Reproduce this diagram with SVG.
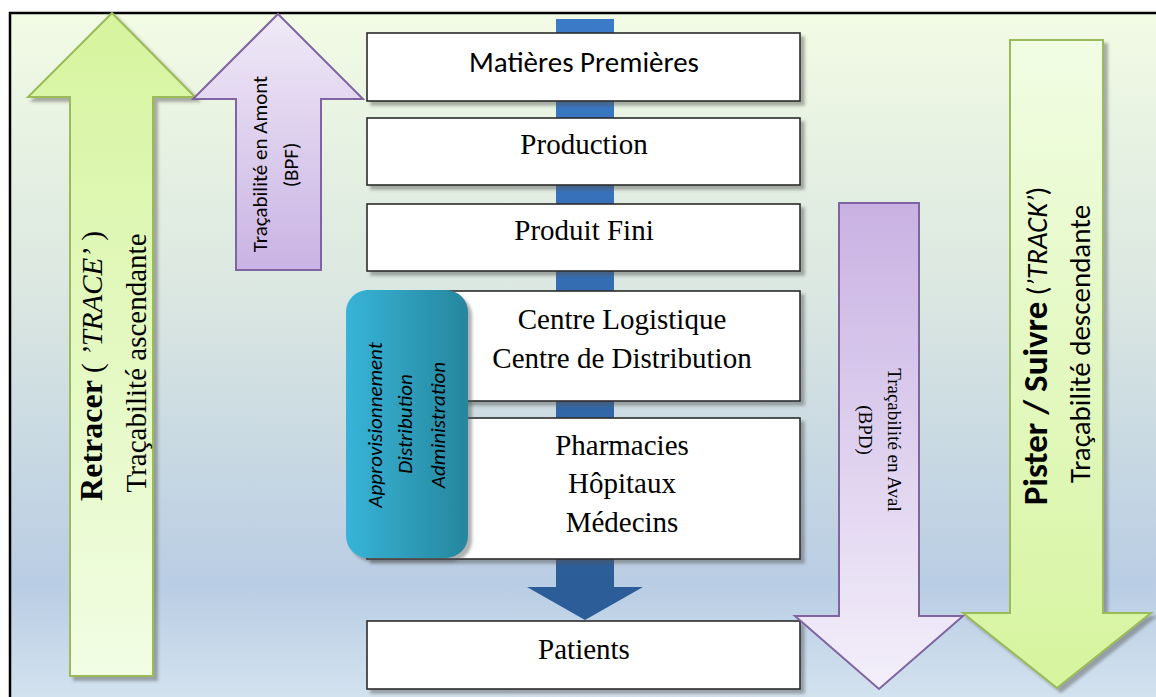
<svg xmlns="http://www.w3.org/2000/svg" width="1156" height="697" viewBox="0 0 1156 697">
<defs>
<linearGradient id="bg" x1="0" y1="0" x2="0" y2="1">
<stop offset="0" stop-color="#f2fbe4"/>
<stop offset="0.4" stop-color="#dbe7e1"/>
<stop offset="0.83" stop-color="#b9cde4"/>
<stop offset="1" stop-color="#d4e3ef"/>
</linearGradient>
<linearGradient id="gUp" x1="0" y1="0" x2="0" y2="1">
<stop offset="0" stop-color="#d6f49e"/>
<stop offset="1" stop-color="#f1fde4"/>
</linearGradient>
<linearGradient id="gDown" x1="0" y1="0" x2="0" y2="1">
<stop offset="0" stop-color="#f1fde4"/>
<stop offset="1" stop-color="#d6f49e"/>
</linearGradient>
<linearGradient id="pUp" x1="0" y1="0" x2="0" y2="1">
<stop offset="0" stop-color="#efeaf7"/>
<stop offset="1" stop-color="#cab3e4"/>
</linearGradient>
<linearGradient id="pDown" x1="0" y1="0" x2="0" y2="1">
<stop offset="0" stop-color="#c9b2e3"/>
<stop offset="1" stop-color="#f3effa"/>
</linearGradient>
<linearGradient id="blue" x1="0" y1="0" x2="0" y2="1">
<stop offset="0" stop-color="#3b7bc8"/>
<stop offset="1" stop-color="#2c5d98"/>
</linearGradient>
<linearGradient id="teal" x1="0" y1="0" x2="1" y2="0">
<stop offset="0" stop-color="#37b4d8"/>
<stop offset="1" stop-color="#26869d"/>
</linearGradient>
<filter id="sh" x="-10%" y="-10%" width="130%" height="130%">
<feDropShadow dx="4" dy="4" stdDeviation="1.5" flood-color="#555" flood-opacity="0.45"/>
</filter>
</defs>
<style>
.box{fill:#fff;stroke:#2a2a2a;stroke-width:1.6;filter:url(#sh)}
.serif{font-family:"Liberation Serif","Times New Roman",serif;fill:#000}
.sans{font-family:Carlito,Lato,"Liberation Sans",sans-serif;fill:#000}
.big{font-size:29px}
.green{stroke:#9bbb59;stroke-width:2}
.purple{stroke:#8064a2;stroke-width:2}
</style>
<rect x="10" y="13" width="1150" height="690" fill="url(#bg)" stroke="#000" stroke-width="2.5"/>

<g id="arrow-retracer">
<polygon points="112,13 195,97 153,97 153,676 70,676 70,97 28,97" fill="url(#gUp)" class="green" filter="url(#sh)"/>
<text class="serif" text-anchor="middle" transform="translate(102,366) rotate(-90)"><tspan font-weight="bold" font-size="32">Retracer</tspan><tspan font-size="29"> ( </tspan><tspan font-size="29" font-style="italic">’TRACE’</tspan><tspan font-size="29"> )</tspan></text>
<text class="serif big" text-anchor="middle" transform="translate(146,363) rotate(-90)">Traçabilité ascendante</text>
</g>

<g id="arrow-amont">
<polygon points="278,14 363,99 321,99 321,270 236,270 236,99 193,99" fill="url(#pUp)" class="purple"/>
<text class="sans" font-size="21" text-anchor="middle" transform="translate(267,164) rotate(-90)">Traçabilité en Amont</text>
<text class="sans" font-size="21" text-anchor="middle" transform="translate(298,165) rotate(-90)">(BPF)</text>
</g>

<g id="connectors">
<rect x="556" y="19" width="58" height="570" fill="url(#blue)"/>
<polygon points="527,587 643,587 585,620" fill="#2c5d98"/>
</g>

<g id="n-matieres">
<rect class="box" x="367" y="33" width="433" height="68"/>
<text class="sans big" x="584" y="72" text-anchor="middle">Matières Premières</text>
</g>
<g id="n-production">
<rect class="box" x="367" y="118" width="433" height="67"/>
<text class="serif big" x="584" y="154" text-anchor="middle">Production</text>
</g>
<g id="n-produit">
<rect class="box" x="367" y="204" width="433" height="67"/>
<text class="serif big" x="584" y="240" text-anchor="middle">Produit Fini</text>
</g>
<g id="n-centre">
<rect class="box" x="367" y="291" width="433" height="110"/>
<text class="serif big" x="622" y="329" text-anchor="middle">Centre Logistique</text>
<text class="serif big" x="622" y="368" text-anchor="middle">Centre de Distribution</text>
</g>
<g id="n-pharmacies">
<rect class="box" x="367" y="418" width="433" height="141"/>
<text class="serif big" x="622" y="455" text-anchor="middle">Pharmacies</text>
<text class="serif big" x="622" y="493" text-anchor="middle">Hôpitaux</text>
<text class="serif big" x="622" y="532" text-anchor="middle">Médecins</text>
</g>
<g id="n-patients">
<rect class="box" x="367" y="621" width="433" height="68"/>
<text class="serif big" x="584" y="659" text-anchor="middle">Patients</text>
</g>

<g id="n-approvisionnement">
<rect x="346" y="290" width="122" height="268" rx="22" fill="url(#teal)" filter="url(#sh)"/>
<g class="sans" font-size="21" font-style="italic" text-anchor="middle">
<text transform="translate(382,425) rotate(-90)">Approvisionnement</text>
<text transform="translate(412,424) rotate(-90)">Distribution</text>
<text transform="translate(445,425) rotate(-90)">Administration</text>
</g>
</g>

<g id="arrow-aval">
<polygon points="839,203 919,203 919,616 963,616 879,689 795,616 839,616" fill="url(#pDown)" class="purple"/>
<text class="serif" font-size="19" text-anchor="middle" transform="translate(888,440) rotate(90)">Traçabilité en Aval</text>
<text class="serif" font-size="19" text-anchor="middle" transform="translate(859,430) rotate(90)">(BPD)</text>
</g>

<g id="arrow-pister">
<polygon points="1010,40 1103,40 1103,613 1151,613 1057,688 963,613 1010,613" fill="url(#gDown)" class="green" filter="url(#sh)"/>
<text class="sans" text-anchor="middle" transform="translate(1047,346) rotate(-90)"><tspan font-weight="bold" font-size="35">Pister / Suivre</tspan><tspan font-size="29"> (</tspan><tspan font-size="29" font-style="italic">’TRACK’</tspan><tspan font-size="29">)</tspan></text>
<text class="sans big" text-anchor="middle" transform="translate(1090,344) rotate(-90)">Traçabilité descendante</text>
</g>
</svg>
